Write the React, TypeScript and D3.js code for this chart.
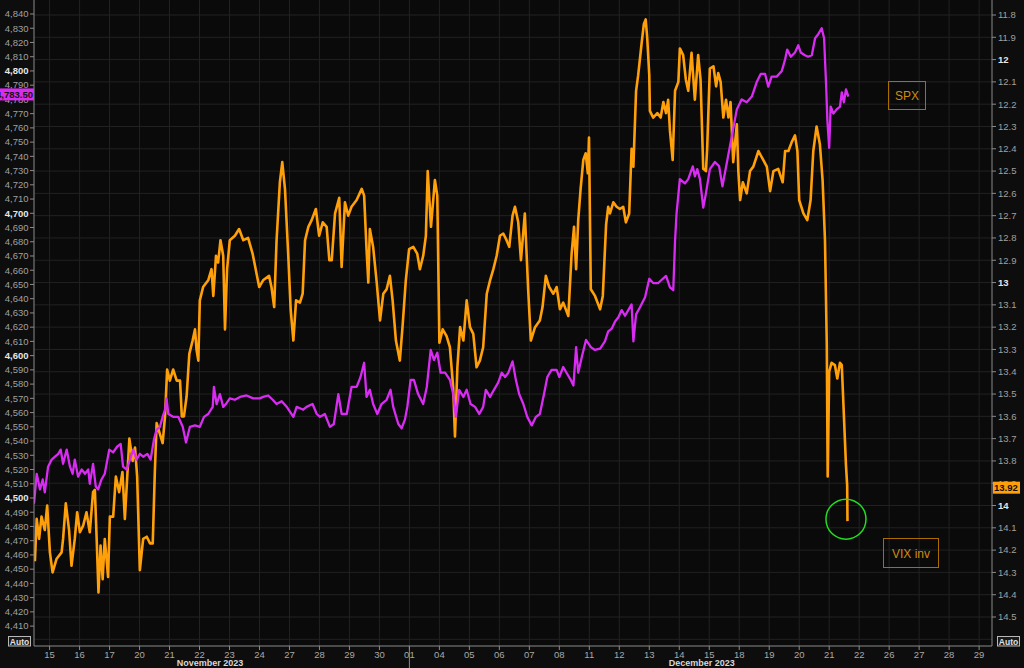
import React, { useEffect } from "react";
import * as d3 from "d3";

// trading-day index (0 = Nov 15) , value
const vixInv: [number, number][] = [
  [-0.49, 14.25], [-0.43, 14.06], [-0.35, 14.15], [-0.27, 14.05], [-0.16, 14.11], [-0.08, 14.0],
  [0.01, 14.21], [0.1, 14.3], [0.23, 14.24], [0.4, 14.21], [0.45, 14.15], [0.54, 13.99],
  [0.65, 14.11], [0.73, 14.27], [0.84, 14.15], [0.92, 14.03], [1.01, 14.12], [1.12, 14.09],
  [1.23, 14.03], [1.34, 14.12], [1.45, 13.94], [1.51, 13.93], [1.57, 14.15], [1.63, 14.39],
  [1.7, 14.18], [1.77, 14.33], [1.84, 14.15], [1.95, 14.32], [2.01, 14.05], [2.12, 14.05],
  [2.21, 13.87], [2.32, 13.94], [2.43, 13.85], [2.51, 14.06], [2.59, 13.87], [2.66, 13.7],
  [2.77, 13.8], [2.85, 13.74], [2.92, 13.87], [3.01, 14.29], [3.12, 14.15], [3.24, 14.14],
  [3.35, 14.17], [3.44, 14.17], [3.51, 13.85], [3.57, 13.63], [3.68, 13.68], [3.77, 13.72],
  [3.85, 13.6], [3.92, 13.39], [4.01, 13.44], [4.12, 13.39], [4.24, 13.44], [4.35, 13.44],
  [4.41, 13.6], [4.48, 13.6], [4.57, 13.51], [4.66, 13.32], [4.77, 13.26], [4.85, 13.21],
  [4.9, 13.3], [4.96, 13.35], [5.01, 13.08], [5.12, 13.02], [5.29, 12.99], [5.4, 12.94],
  [5.46, 13.06], [5.51, 12.96], [5.55, 12.88], [5.62, 12.91], [5.7, 12.81], [5.79, 12.88],
  [5.85, 13.21], [5.92, 12.94], [6.01, 12.81], [6.18, 12.79], [6.32, 12.76], [6.46, 12.81],
  [6.62, 12.8], [6.77, 12.87], [6.99, 13.02], [7.12, 12.99], [7.32, 12.97], [7.4, 13.02],
  [7.49, 13.11], [7.57, 12.81], [7.68, 12.55], [7.76, 12.46], [7.85, 12.58], [7.96, 12.88],
  [8.04, 13.12], [8.13, 13.26], [8.22, 13.08], [8.35, 13.09], [8.44, 13.05], [8.52, 12.81],
  [8.63, 12.75], [8.74, 12.72], [8.88, 12.67], [8.99, 12.79], [9.11, 12.73], [9.24, 12.75],
  [9.33, 12.9], [9.41, 12.9], [9.52, 12.69], [9.66, 12.62], [9.74, 12.93], [9.85, 12.64],
  [9.96, 12.7], [10.07, 12.66], [10.24, 12.63], [10.41, 12.58], [10.49, 12.61], [10.57, 12.85],
  [10.63, 13.0], [10.68, 12.76], [10.79, 12.84], [10.91, 13.0], [11.02, 13.17], [11.13, 13.05],
  [11.24, 13.03], [11.35, 12.97], [11.44, 13.08], [11.55, 13.26], [11.68, 13.35], [11.77, 13.2],
  [11.88, 12.99], [11.99, 12.85], [12.13, 12.84], [12.26, 12.87], [12.35, 12.94], [12.46, 12.88],
  [12.55, 12.79], [12.61, 12.5], [12.72, 12.75], [12.85, 12.54], [12.93, 12.61], [13.0, 13.27],
  [13.11, 13.21], [13.24, 13.24], [13.35, 13.29], [13.46, 13.47], [13.52, 13.69], [13.6, 13.38],
  [13.69, 13.2], [13.8, 13.26], [13.91, 13.08], [14.02, 13.2], [14.13, 13.23], [14.24, 13.38],
  [14.35, 13.35], [14.46, 13.29], [14.58, 13.05], [14.69, 12.99], [14.8, 12.94], [14.91, 12.88],
  [15.02, 12.79], [15.13, 12.78], [15.24, 12.81], [15.33, 12.84], [15.44, 12.7], [15.52, 12.66],
  [15.63, 12.73], [15.72, 12.9], [15.85, 12.69], [15.96, 13.03], [16.05, 13.26], [16.19, 13.2],
  [16.35, 13.17], [16.44, 13.11], [16.55, 12.97], [16.66, 13.02], [16.8, 13.05], [16.91, 13.02],
  [17.02, 13.12], [17.13, 13.09], [17.3, 13.15], [17.41, 12.87], [17.49, 12.75], [17.56, 12.94],
  [17.63, 12.72], [17.71, 12.58], [17.8, 12.45], [17.88, 12.42], [17.95, 12.51], [17.99, 12.35],
  [18.05, 13.03], [18.19, 13.06], [18.36, 13.12], [18.45, 13.06], [18.56, 12.74], [18.63, 12.66],
  [18.69, 12.69], [18.8, 12.64], [18.91, 12.66], [19.02, 12.67], [19.13, 12.66], [19.22, 12.73],
  [19.33, 12.69], [19.41, 12.4], [19.47, 12.48], [19.56, 12.14], [19.63, 12.07], [19.75, 11.92],
  [19.82, 11.84], [19.88, 11.82], [19.93, 11.9], [20.0, 12.07], [20.02, 12.23], [20.13, 12.26],
  [20.27, 12.24], [20.38, 12.26], [20.47, 12.19], [20.56, 12.24], [20.63, 12.18], [20.69, 12.32],
  [20.78, 12.45], [20.86, 12.14], [20.97, 12.1], [21.02, 11.95], [21.13, 11.98], [21.22, 12.09],
  [21.3, 12.14], [21.41, 11.97], [21.52, 12.18], [21.63, 11.98], [21.71, 12.09], [21.8, 12.49],
  [21.89, 12.5], [21.93, 12.4], [22.02, 12.04], [22.14, 12.03], [22.23, 12.12], [22.3, 12.06],
  [22.38, 12.1], [22.47, 12.26], [22.56, 12.18], [22.64, 12.26], [22.71, 12.19], [22.8, 12.46],
  [22.92, 12.29], [22.97, 12.5], [23.03, 12.63], [23.12, 12.55], [23.25, 12.6], [23.36, 12.5],
  [23.47, 12.48], [23.64, 12.41], [23.8, 12.45], [23.92, 12.48], [24.03, 12.59], [24.14, 12.5],
  [24.3, 12.49], [24.45, 12.55], [24.53, 12.41], [24.64, 12.41], [24.75, 12.37], [24.86, 12.34],
  [24.94, 12.41], [25.0, 12.63], [25.14, 12.69], [25.27, 12.72], [25.38, 12.63], [25.47, 12.41],
  [25.58, 12.3], [25.69, 12.38], [25.78, 12.54], [25.86, 12.81], [25.92, 13.28], [25.95, 13.87],
  [26.0, 13.4], [26.08, 13.36], [26.19, 13.37], [26.27, 13.43], [26.36, 13.36], [26.42, 13.37],
  [26.47, 13.53], [26.56, 13.82], [26.6, 13.91], [26.61, 14.07],
];

const spx: [number, number][] = [
  [-0.52, 4496], [-0.43, 4517], [-0.32, 4506], [-0.23, 4513], [-0.16, 4504], [-0.05, 4522],
  [0.07, 4527], [0.18, 4529], [0.29, 4531], [0.37, 4534], [0.45, 4524], [0.57, 4534],
  [0.68, 4522], [0.77, 4517], [0.84, 4527], [0.95, 4515], [1.07, 4520], [1.18, 4517],
  [1.29, 4520], [1.34, 4510], [1.45, 4524], [1.54, 4508], [1.62, 4506], [1.73, 4513],
  [1.84, 4517], [1.99, 4534], [2.12, 4532], [2.25, 4536], [2.37, 4538], [2.45, 4522],
  [2.57, 4520], [2.68, 4527], [2.79, 4534], [2.9, 4527], [3.01, 4531], [3.12, 4529],
  [3.26, 4531], [3.37, 4527], [3.48, 4541], [3.57, 4548], [3.68, 4550], [3.77, 4557],
  [3.85, 4562], [3.9, 4570], [3.96, 4559], [4.12, 4557], [4.29, 4557], [4.44, 4550],
  [4.55, 4539], [4.68, 4550], [4.85, 4551], [5.01, 4550], [5.15, 4557], [5.29, 4559],
  [5.44, 4564], [5.48, 4578], [5.57, 4566], [5.68, 4573], [5.79, 4564], [5.88, 4566],
  [6.01, 4570], [6.18, 4569], [6.35, 4571], [6.57, 4572], [6.79, 4570], [7.01, 4570],
  [7.12, 4571], [7.29, 4572], [7.44, 4569], [7.57, 4566], [7.74, 4568], [7.91, 4564],
  [8.13, 4557], [8.24, 4564], [8.35, 4563], [8.46, 4562], [8.57, 4564], [8.77, 4566],
  [8.91, 4559], [9.02, 4557], [9.18, 4559], [9.35, 4550], [9.48, 4552], [9.63, 4573],
  [9.74, 4559], [9.91, 4559], [10.07, 4578], [10.24, 4578], [10.37, 4585], [10.49, 4595],
  [10.57, 4571], [10.68, 4576], [10.79, 4566], [10.93, 4559], [11.07, 4566], [11.24, 4569],
  [11.37, 4576], [11.46, 4564], [11.63, 4552], [11.74, 4549], [11.85, 4555], [11.93, 4564],
  [12.04, 4583], [12.15, 4583], [12.29, 4573], [12.46, 4566], [12.58, 4578], [12.71, 4604],
  [12.82, 4597], [12.93, 4602], [13.04, 4588], [13.19, 4588], [13.35, 4583], [13.46, 4573],
  [13.55, 4557], [13.66, 4576], [13.8, 4571], [13.91, 4576], [14.04, 4566], [14.19, 4564],
  [14.33, 4559], [14.46, 4564], [14.55, 4576], [14.69, 4571], [14.82, 4576], [14.96, 4581],
  [15.08, 4588], [15.19, 4585], [15.3, 4588], [15.44, 4596], [15.55, 4583], [15.66, 4573],
  [15.8, 4566], [15.93, 4557], [16.08, 4551], [16.22, 4557], [16.35, 4559], [16.49, 4573],
  [16.6, 4585], [16.74, 4590], [16.91, 4590], [17.0, 4585], [17.13, 4592], [17.24, 4588],
  [17.38, 4583], [17.47, 4579], [17.56, 4606], [17.63, 4588], [17.75, 4599], [17.89, 4611],
  [18.05, 4606], [18.19, 4604], [18.36, 4605], [18.52, 4610], [18.63, 4617], [18.75, 4619],
  [18.86, 4624], [18.97, 4627], [19.08, 4632], [19.19, 4628], [19.3, 4632], [19.41, 4636],
  [19.47, 4610], [19.56, 4629], [19.69, 4634], [19.86, 4641], [20.0, 4654], [20.13, 4651],
  [20.3, 4651], [20.45, 4654], [20.56, 4656], [20.69, 4648], [20.8, 4646], [20.86, 4681],
  [20.91, 4700], [21.02, 4724], [21.19, 4721], [21.3, 4724], [21.45, 4733], [21.52, 4726],
  [21.6, 4731], [21.69, 4724], [21.8, 4704], [21.89, 4714], [22.02, 4731], [22.19, 4736],
  [22.33, 4733], [22.44, 4719], [22.92, 4773], [23.08, 4780], [23.25, 4778], [23.42, 4782],
  [23.58, 4792], [23.72, 4798], [23.86, 4798], [23.97, 4789], [24.08, 4796], [24.25, 4796],
  [24.42, 4800], [24.53, 4808], [24.6, 4815], [24.72, 4810], [24.86, 4813], [24.97, 4818],
  [25.05, 4813], [25.19, 4811], [25.3, 4810], [25.42, 4811], [25.53, 4823], [25.64, 4826],
  [25.75, 4830], [25.83, 4823], [25.9, 4789], [25.94, 4765], [26.0, 4746], [26.05, 4775],
  [26.14, 4770], [26.25, 4773], [26.36, 4775], [26.42, 4785], [26.49, 4778], [26.56, 4787],
  [26.64, 4782],
];

const dayLabels = [
  "15", "16", "17", "20", "21", "22", "23", "24", "27", "28", "29", "30",
  "01", "04", "05", "06", "07", "08", "11", "12", "13", "14", "15", "18", "19", "20", "21", "22",
  "26", "27", "28", "29",
];
const monthLabels: { label: string; at: number; sep: number | null }[] = [
  { label: "November 2023", at: 5.35, sep: null },
  { label: "December 2023", at: 21.75, sep: 12 },
];
const spxTicks = d3.range(4410, 4841, 10);
const vixTicks = d3.range(118, 146).map((v) => v / 10);
const vixGrid = d3.range(118, 147).map((v) => v / 10);
const lastSpx = 4783.5;
const lastVix = 13.92;

const ORANGE = "#ffa00a";
const PURPLE = "#d92cf2";
const FONT = "'Liberation Sans', Arial, sans-serif";

export default function App() {
  useEffect(() => {
    document.body.style.margin = "0";
    document.body.style.background = "#0d0d0d";
  }, []);

  const W = 1024;
  const H = 668;
  const left = 34;
  const right = 992;
  const bottom = 646;

  const x = d3.scaleLinear().domain([-0.52, 31.43]).range([left, right]);
  const yL = d3.scaleLinear().domain([4840, 4410]).range([14, 626.1]);
  const yR = d3.scaleLinear().domain([11.8, 14.5]).range([15, 617]);

  const spxLine = d3.line<[number, number]>().x((d) => x(d[0])).y((d) => yL(d[1]));
  const vixLine = d3.line<[number, number]>().x((d) => x(d[0])).y((d) => yR(d[1]));
  const fmt = d3.format(",");
  const last = vixInv[vixInv.length - 1];

  return (
    <svg width={W} height={H} style={{ display: "block", background: "#0d0d0d" }} fontFamily={FONT}>
      <defs>
        <clipPath id="plot">
          <rect x={left} y={0} width={right - left} height={bottom} />
        </clipPath>
      </defs>
      <rect x={left} y={0} width={right - left} height={bottom} fill="#0a0a0a" />

      {/* grid */}
      {vixGrid.map((v) => (
        <line key={"h" + v} x1={left} x2={right} y1={yR(v)} y2={yR(v)} stroke="#222" strokeWidth={1} />
      ))}
      {dayLabels.map((d, i) => (
        <line key={"v" + i} x1={x(i)} x2={x(i)} y1={0} y2={bottom} stroke="#222" strokeWidth={1} />
      ))}

      {/* series */}
      <g clipPath="url(#plot)" fill="none" strokeLinejoin="round">
        <path d={vixLine(vixInv) || ""} stroke={ORANGE} strokeWidth={2.6} />
        <path d={spxLine(spx) || ""} stroke={PURPLE} strokeWidth={2.3} />
      </g>

      {/* axes */}
      <line x1={left} x2={left} y1={0} y2={bottom} stroke="#8a8a8a" />
      <line x1={right} x2={right} y1={0} y2={bottom} stroke="#8a8a8a" />
      <line x1={left} x2={right} y1={bottom} y2={bottom} stroke="#8a8a8a" />

      {spxTicks.map((v) => (
        <g key={"l" + v}>
          <line x1={30} x2={left} y1={yL(v)} y2={yL(v)} stroke="#8a8a8a" />
          <text
            x={28.5}
            y={yL(v)}
            dy="0.35em"
            textAnchor="end"
            fontSize={9.5}
            fontWeight={v % 100 === 0 ? "bold" : "normal"}
            fill={v % 100 === 0 ? "#e6e6e6" : "#a0a0a0"}
          >
            {fmt(v)}
          </text>
        </g>
      ))}

      {vixTicks.map((v) => {
        const major = Number.isInteger(v);
        return (
          <g key={"r" + v}>
            <line x1={right} x2={right + 4} y1={yR(v)} y2={yR(v)} stroke="#8a8a8a" />
            <text
              x={998}
              y={yR(v)}
              dy="0.35em"
              fontSize={9.5}
              fontWeight={major ? "bold" : "normal"}
              fill={major ? "#e6e6e6" : "#a0a0a0"}
            >
              {major ? String(v) : v.toFixed(1)}
            </text>
          </g>
        );
      })}

      {dayLabels.map((d, i) => (
        <g key={"b" + i}>
          <line x1={x(i)} x2={x(i)} y1={bottom} y2={bottom + 4} stroke="#8a8a8a" />
          <text x={x(i)} y={657.5} textAnchor="middle" fontSize={9.5} fill="#a8a8a8">
            {d}
          </text>
        </g>
      ))}
      {monthLabels.map((m) => (
        <g key={m.label}>
          {m.sep !== null && (
            <line x1={x(m.sep)} x2={x(m.sep)} y1={bottom} y2={H} stroke="#8a8a8a" />
          )}
          <text x={x(m.at)} y={666} textAnchor="middle" fontSize={9} fontWeight="bold" fill="#d8d8d8">
            {m.label}
          </text>
        </g>
      ))}

      {/* Auto buttons */}
      {[8.5, 997.5].map((bx) => (
        <g key={"a" + bx}>
          <rect x={bx} y={636.5} width={22} height={9.5} fill="#1a1a1a" stroke="#b8b8b8" />
          <text x={bx + 11} y={644.5} textAnchor="middle" fontSize={8.5} fontWeight="bold" fill="#e0e0e0">
            Auto
          </text>
        </g>
      ))}

      {/* last value tags */}
      <rect x={0} y={yL(lastSpx) - 6} width={left} height={12} fill={PURPLE} />
      <text x={left - 1} y={yL(lastSpx)} dy="0.35em" textAnchor="end" fontSize={9.5} fontWeight="bold" fill="#111">
        {d3.format(",.2f")(lastSpx)}
      </text>
      <rect x={right + 1} y={yR(lastVix) - 6} width={27} height={12} fill={ORANGE} />
      <text x={right + 2} y={yR(lastVix)} dy="0.35em" fontSize={9.5} fontWeight="bold" fill="#111">
        {lastVix.toFixed(2)}
      </text>

      {/* legend boxes */}
      <rect x={888.5} y={81.5} width={37} height={28} fill="none" stroke="#a86c00" />
      <text x={907} y={100} textAnchor="middle" fontSize={12} fill="#cf8a10">
        SPX
      </text>
      <rect x={883.5} y={538.5} width={55} height={29} fill="none" stroke="#a86c00" />
      <text x={911} y={557.5} textAnchor="middle" fontSize={12} fill="#cf8a10">
        VIX inv
      </text>

      {/* highlight */}
      <circle cx={x(last[0]) - 1.5} cy={yR(last[1]) - 2} r={20} fill="none" stroke="#22dd22" strokeWidth={1.5} />
    </svg>
  );
}
